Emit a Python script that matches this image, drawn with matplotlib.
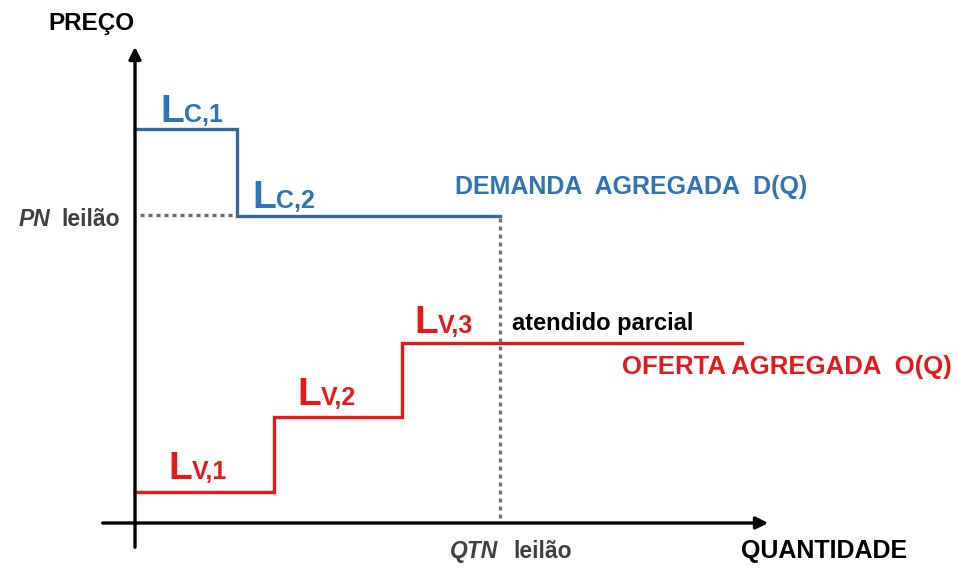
import matplotlib.pyplot as plt

plt.rcParams['font.family'] = ['Liberation Sans', 'DejaVu Sans']

# step curves (quantity, price) in arbitrary units
demand_q = [0, 10.2, 10.2, 36.5]
demand_p = [39.4, 39.4, 30.7, 30.7]
supply_q = [0, 13.9, 13.9, 26.7, 26.7, 60.7]
supply_p = [3.1, 3.1, 10.6, 10.6, 18.0, 18.0]
pn = 30.8          # preço de fechamento
qtn = 36.5         # quantidade negociada

blue = '#2f75b5'
blue_line = '#3a6796'
red = '#e3191c'
grey = '#707070'

fig = plt.figure(figsize=(9.58, 5.68), dpi=100)
ax = fig.add_axes([0, 0, 1, 1])
ax.set_xlim(-13.5, 82.3)
ax.set_ylim(-4.5, 52.3)
ax.axis('off')

# axes with arrows
ax.annotate('', xy=(0, 47.9), xytext=(0, -2.7),
            arrowprops=dict(arrowstyle='-|>', lw=2.4, color='black', mutation_scale=18))
ax.annotate('', xy=(63.6, 0), xytext=(-3.5, 0),
            arrowprops=dict(arrowstyle='-|>', lw=2.4, color='black', mutation_scale=18))

# curves
ax.plot(demand_q, demand_p, color=blue_line, lw=2.4, solid_joinstyle='miter')
ax.plot(supply_q, supply_p, color=red, lw=2.4, solid_joinstyle='miter')

# dotted guides
ax.plot([0.5, 10.2], [pn, pn], color=grey, lw=2.4, linestyle=(0, (1.2, 1.2)))
ax.plot([qtn, qtn], [30.5, 0], color=grey, lw=2.4, linestyle=(0, (1.2, 1.2)))

# axis titles
ax.text(-8.7, 49.3, 'PREÇO', fontsize=17.5, fontweight='bold', ha='left', va='baseline')
ax.text(-1.5, 30.3, 'leilão', fontsize=16.5, fontweight='bold', color='#404040',
        ha='right', va='center')
ax.text(-8.5, 30.3, 'PN', fontsize=16.5, fontweight='bold', style='italic', color='#404040',
        ha='right', va='center')
ax.text(31.5, -3.5, 'QTN', fontsize=16.5, fontweight='bold', style='italic', color='#404040',
        ha='left', va='baseline')
ax.text(37.8, -3.5, 'leilão', fontsize=16.5, fontweight='bold', color='#404040',
        ha='left', va='baseline')
ax.text(77.2, -3.5, 'QUANTIDADE', fontsize=18, fontweight='bold', ha='right', va='baseline')


def step_label(x, y, sub, color):
    ax.text(x, y, 'L', fontsize=28, fontweight='bold', color=color, ha='left', va='baseline')
    ax.annotate(sub, xy=(x, y), xytext=(17.5, 0), textcoords='offset points',
                fontsize=18, fontweight='bold', color=color, ha='left', va='baseline')


step_label(2.5, 40.1, 'C,1', blue)
step_label(11.7, 31.5, 'C,2', blue)
step_label(27.9, 19.0, 'V,3', red)
step_label(16.2, 11.8, 'V,2', red)
step_label(3.3, 4.4, 'V,1', red)

ax.text(32.0, 32.9, 'DEMANDA  AGREGADA  D(Q)', fontsize=18, fontweight='bold',
        color=blue, ha='left', va='baseline')
ax.text(81.7, 14.9, 'OFERTA AGREGADA  O(Q)', fontsize=18.5, fontweight='bold',
        color=red, ha='right', va='baseline')
ax.text(37.7, 19.3, 'atendido parcial', fontsize=17, fontweight='bold',
        color='black', ha='left', va='baseline')

fig.savefig('out.png', dpi=100, facecolor='white')
